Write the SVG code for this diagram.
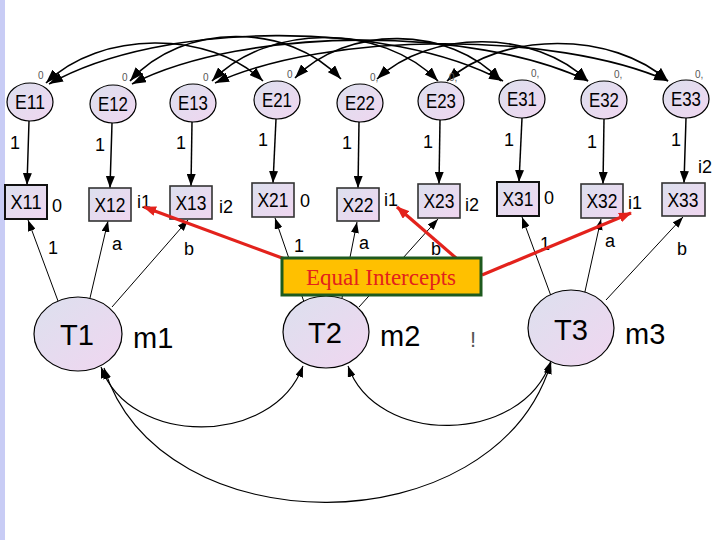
<svg xmlns="http://www.w3.org/2000/svg" width="720" height="540" viewBox="0 0 720 540">
<defs>
<linearGradient id="gf" x1="0" y1="0" x2="1" y2="1">
<stop offset="0" stop-color="#DCE0EE"/>
<stop offset="1" stop-color="#F0D6F0"/>
</linearGradient>
<marker id="ah" markerUnits="userSpaceOnUse" markerWidth="14" markerHeight="10" refX="14" refY="5" orient="auto-start-reverse"><path d="M0,0 L14,5 L0,10 z" fill="#000"/></marker>
<marker id="am" markerUnits="userSpaceOnUse" markerWidth="12" markerHeight="9" refX="12" refY="4.5" orient="auto-start-reverse"><path d="M0,0 L12,4.5 L0,9 z" fill="#000"/></marker>
<marker id="as" markerUnits="userSpaceOnUse" markerWidth="11" markerHeight="8" refX="11" refY="4" orient="auto-start-reverse"><path d="M0,0 L11,4 L0,8 z" fill="#000"/></marker>
<marker id="ar" markerUnits="userSpaceOnUse" markerWidth="13" markerHeight="10" refX="12" refY="5" orient="auto"><path d="M0,0 L13,5 L0,10 z" fill="#E3221C"/></marker>
</defs>
<style>
.n{fill:url(#gf);stroke:#000;stroke-width:1.2}
.b{fill:url(#gf);stroke:#333;stroke-width:1.6}
.t{font-family:"Liberation Sans",Arial,sans-serif;fill:#000}
.el{font-size:20px;text-anchor:middle}
.lb{font-size:18px}
.sm{font-size:10px;fill:#555}
.big{font-size:30px;text-anchor:middle}
.m{font-size:29px}
.cov{fill:none;stroke:#000;stroke-width:1.6;marker-start:url(#ah);marker-end:url(#ah)}
.ex{fill:none;stroke:#000;stroke-width:1.5;marker-end:url(#am)}
.tx{fill:none;stroke:#000;stroke-width:1;marker-end:url(#as)}
.tc{fill:none;stroke:#000;stroke-width:1.1;marker-start:url(#as);marker-end:url(#as)}
.red{fill:none;stroke:#E3221C;stroke-width:3.2;marker-end:url(#ar)}
</style>
<rect x="0" y="0" width="720" height="540" fill="#fff"/>
<rect x="0" y="0" width="5" height="540" fill="#C8CCF5"/>

<g id="connectors">
<path class="cov" d="M46,83 C100,30 209,30 263,81"/>
<path class="cov" d="M49,84 C162,20 390,20 503,81"/>
<path class="cov" d="M295,78 C346,25 450,25 501,81"/>
<path class="cov" d="M130,81 C183,22 288,22 341,79"/>
<path class="cov" d="M132,84 C246,26 474,26 588,81"/>
<path class="cov" d="M377,79 C430,29 535,29 588,81"/>
<path class="cov" d="M212,81 C268,23 382,23 438,81"/>
<path class="cov" d="M215,83 C328,31 555,31 668,81"/>
<path class="cov" d="M447,81 C502,31 613,31 668,81"/>

<path class="ex" d="M29,121 L27,185"/>
<path class="ex" d="M112,123 L110,188"/>
<path class="ex" d="M192,122 L191,186"/>
<path class="ex" d="M276,119 L273,183"/>
<path class="ex" d="M359,122 L358,188"/>
<path class="ex" d="M440,120 L439,184"/>
<path class="ex" d="M522,118 L519,182"/>
<path class="ex" d="M604,119 L603,184"/>
<path class="ex" d="M686,118 L684,183"/>

<path class="tx" d="M58,301 L28,220"/>
<path class="tx" d="M90,298 L108,221"/>
<path class="tx" d="M112,307 L188,220"/>
<path class="tx" d="M304,302 L275,218"/>
<path class="tx" d="M342,298 L357,222"/>
<path class="tx" d="M359,307 L438,219"/>
<path class="tx" d="M551,296 L522,217"/>
<path class="tx" d="M584,296 L601,219"/>
<path class="tx" d="M606,300 L683,217"/>

<path class="tc" d="M101,367 C130,447 273,447 303,366"/>
<path class="tc" d="M348,366 C376,446 522,446 551,361"/>
<path class="tc" d="M104,368 C160,548 494,548 551,363"/>
</g>

<g id="E11"><ellipse class="n" cx="30" cy="102" rx="23" ry="19"/><text class="t el" x="30" y="109" textLength="30" lengthAdjust="spacingAndGlyphs">E11</text><text class="t sm" x="38" y="79">0</text></g>
<g id="E12"><ellipse class="n" cx="113" cy="104" rx="23" ry="19"/><text class="t el" x="113" y="111" textLength="30" lengthAdjust="spacingAndGlyphs">E12</text><text class="t sm" x="122" y="81">0</text></g>
<g id="E13"><ellipse class="n" cx="193" cy="103" rx="23" ry="19"/><text class="t el" x="193" y="110" textLength="30" lengthAdjust="spacingAndGlyphs">E13</text><text class="t sm" x="203" y="81">0</text></g>
<g id="E21"><ellipse class="n" cx="277" cy="100" rx="23" ry="19"/><text class="t el" x="277" y="107" textLength="30" lengthAdjust="spacingAndGlyphs">E21</text><text class="t sm" x="287" y="78">0</text></g>
<g id="E22"><ellipse class="n" cx="360" cy="103" rx="23" ry="19"/><text class="t el" x="360" y="110" textLength="30" lengthAdjust="spacingAndGlyphs">E22</text><text class="t sm" x="370" y="81">0,</text></g>
<g id="E23"><ellipse class="n" cx="441" cy="101" rx="23" ry="19"/><text class="t el" x="441" y="108" textLength="30" lengthAdjust="spacingAndGlyphs">E23</text><text class="t sm" x="449" y="81">0,</text></g>
<g id="E31"><ellipse class="n" cx="522" cy="99" rx="23" ry="19"/><text class="t el" x="522" y="106" textLength="30" lengthAdjust="spacingAndGlyphs">E31</text><text class="t sm" x="531" y="77">0,</text></g>
<g id="E32"><ellipse class="n" cx="604" cy="100" rx="23" ry="19"/><text class="t el" x="604" y="107" textLength="30" lengthAdjust="spacingAndGlyphs">E32</text><text class="t sm" x="614" y="78">0,</text></g>
<g id="E33"><ellipse class="n" cx="686" cy="99" rx="23" ry="19"/><text class="t el" x="686" y="106" textLength="30" lengthAdjust="spacingAndGlyphs">E33</text><text class="t sm" x="695" y="78">0,</text></g>

<g id="X11"><rect class="b" x="5" y="185" width="42" height="34" style="stroke:#111;stroke-width:2"/><text class="t el" x="26" y="209" textLength="31" lengthAdjust="spacingAndGlyphs">X11</text><text class="t lb" x="52" y="212">0</text></g>
<g id="X12"><rect class="b" x="89" y="188" width="42" height="33"/><text class="t el" x="110" y="212" textLength="31" lengthAdjust="spacingAndGlyphs">X12</text><text class="t lb" x="137" y="208">i1</text></g>
<g id="X13"><rect class="b" x="170" y="186" width="42" height="33"/><text class="t el" x="191" y="210" textLength="31" lengthAdjust="spacingAndGlyphs">X13</text><text class="t lb" x="219" y="213">i2</text></g>
<g id="X21"><rect class="b" x="252" y="183" width="42" height="34"/><text class="t el" x="273" y="207" textLength="31" lengthAdjust="spacingAndGlyphs">X21</text><text class="t lb" x="300" y="207">0</text></g>
<g id="X22"><rect class="b" x="337" y="188" width="42" height="33"/><text class="t el" x="358" y="212" textLength="31" lengthAdjust="spacingAndGlyphs">X22</text><text class="t lb" x="384" y="206">i1</text></g>
<g id="X23"><rect class="b" x="418" y="184" width="42" height="34"/><text class="t el" x="439" y="208" textLength="31" lengthAdjust="spacingAndGlyphs">X23</text><text class="t lb" x="465" y="211">i2</text></g>
<g id="X31"><rect class="b" x="497" y="182" width="42" height="34" style="stroke:#111;stroke-width:2"/><text class="t el" x="518" y="206" textLength="31" lengthAdjust="spacingAndGlyphs">X31</text><text class="t lb" x="544" y="204">0</text></g>
<g id="X32"><rect class="b" x="581" y="184" width="42" height="34"/><text class="t el" x="602" y="208" textLength="31" lengthAdjust="spacingAndGlyphs">X32</text><text class="t lb" x="628" y="209">i1</text></g>
<g id="X33"><rect class="b" x="662" y="183" width="43" height="33"/><text class="t el" x="683" y="207" textLength="31" lengthAdjust="spacingAndGlyphs">X33</text><text class="t lb" x="698" y="173">i2</text></g>

<g id="loadings">
<text class="t lb" x="10" y="149">1</text>
<text class="t lb" x="95" y="151">1</text>
<text class="t lb" x="176" y="149">1</text>
<text class="t lb" x="258" y="146">1</text>
<text class="t lb" x="342" y="149">1</text>
<text class="t lb" x="423" y="148">1</text>
<text class="t lb" x="504" y="146">1</text>
<text class="t lb" x="587" y="148">1</text>
<text class="t lb" x="671" y="146">1</text>
<text class="t lb" x="48" y="254">1</text>
<text class="t lb" x="112" y="250">a</text>
<text class="t lb" x="184" y="255">b</text>
<text class="t lb" x="294" y="252">1</text>
<text class="t lb" x="359" y="249">a</text>
<text class="t lb" x="431" y="255">b</text>
<text class="t lb" x="540" y="250">1</text>
<text class="t lb" x="605" y="247">a</text>
<text class="t lb" x="677" y="255">b</text>
</g>

<g id="T1"><ellipse class="n" cx="78" cy="334" rx="44" ry="37"/><text class="t big" x="77" y="345" textLength="34" lengthAdjust="spacingAndGlyphs">T1</text><text class="t m" x="133" y="348">m1</text></g>
<g id="T2"><ellipse class="n" cx="326" cy="332" rx="43" ry="36"/><text class="t big" x="325" y="343" textLength="34" lengthAdjust="spacingAndGlyphs">T2</text><text class="t m" x="380" y="346">m2</text></g>
<g id="T3"><ellipse class="n" cx="571" cy="328" rx="43" ry="38"/><text class="t big" x="571" y="340" textLength="34" lengthAdjust="spacingAndGlyphs">T3</text><text class="t m" x="625" y="344">m3</text></g>
<text class="t" x="470" y="347" style="font-size:22px;fill:#555">!</text>

<g id="callout">
<path class="red" d="M293,262 L144,207"/>
<path class="red" d="M456,258 L397,207"/>
<path class="red" d="M482,275 L631,213"/>
<rect x="282" y="258" width="199" height="37" fill="#FFC000" stroke="#1E5A1E" stroke-width="3"/>
<text x="381" y="285" text-anchor="middle" style="font-family:'Liberation Serif','Times New Roman',serif;font-size:23px;fill:#E3221C">Equal Intercepts</text>
</g>
</svg>
